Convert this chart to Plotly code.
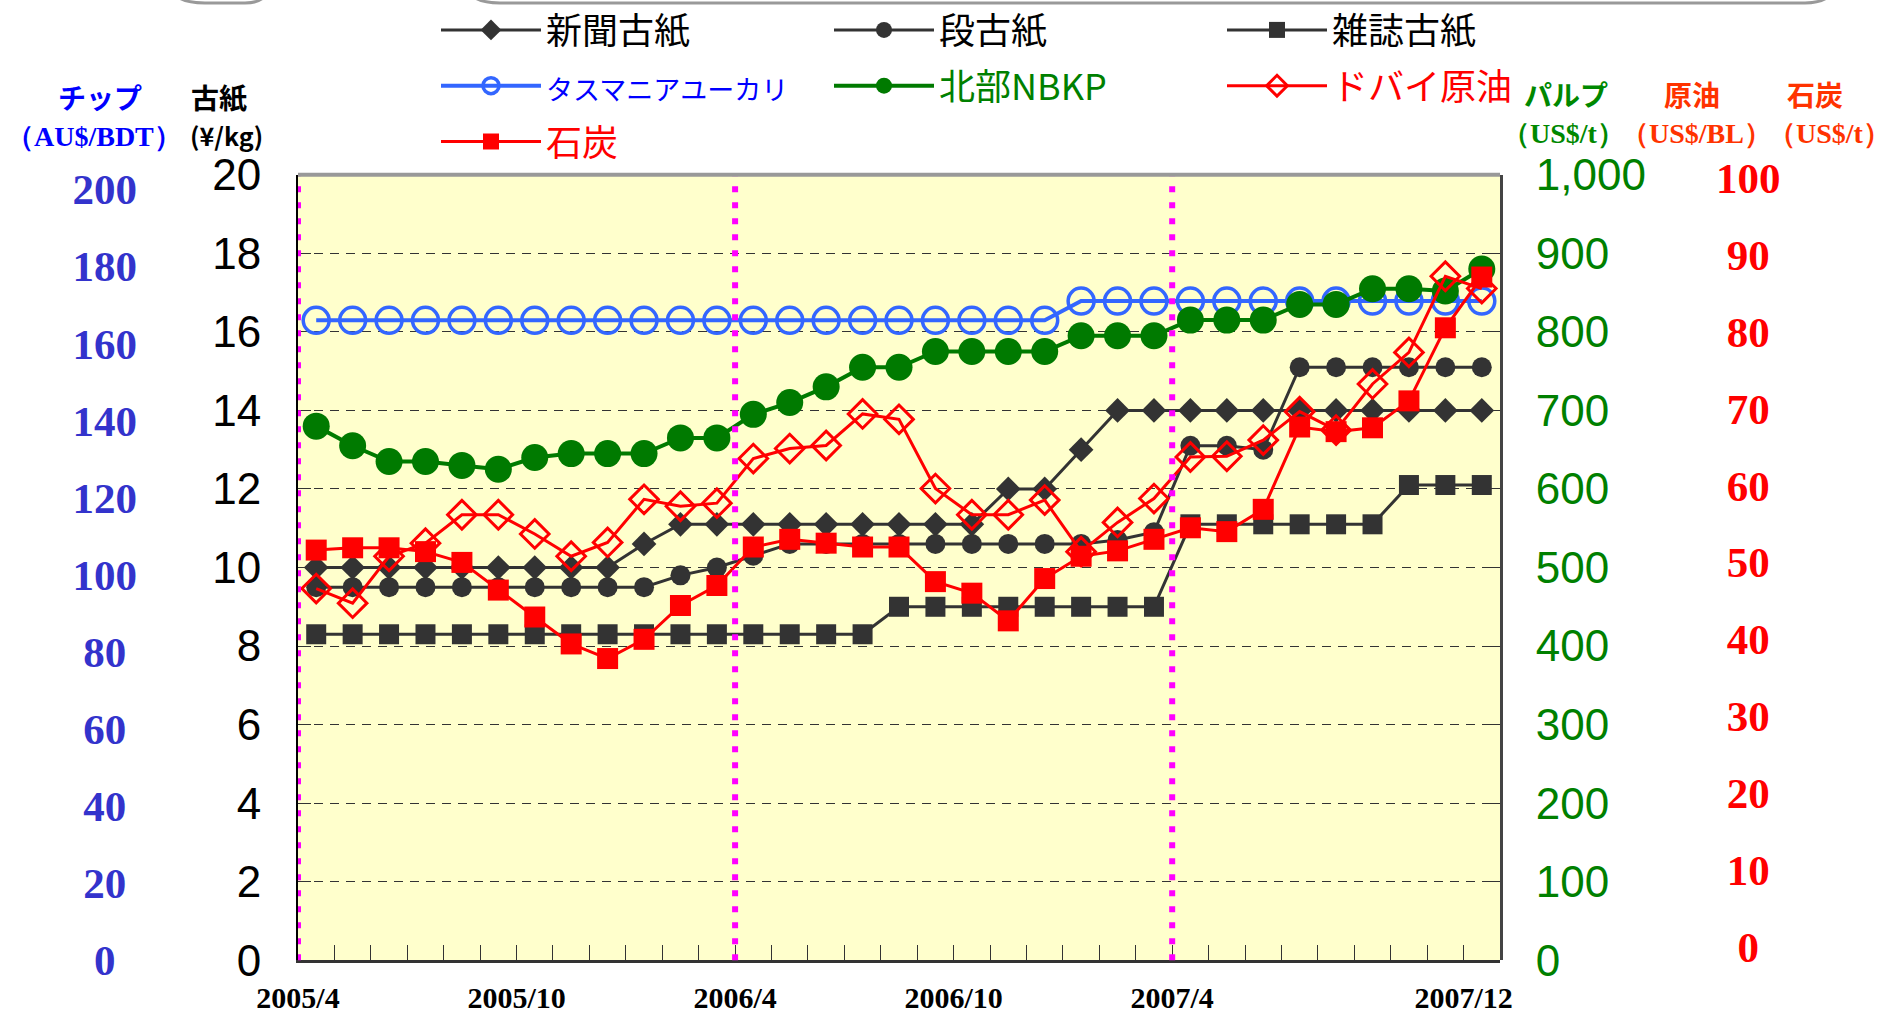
import plotly.graph_objects as go

W, H = 1895, 1019

# ---------------- data ----------------
months = ["2005/4", "2005/5", "2005/6", "2005/7", "2005/8", "2005/9", "2005/10", "2005/11",
          "2005/12", "2006/1", "2006/2", "2006/3", "2006/4", "2006/5", "2006/6", "2006/7",
          "2006/8", "2006/9", "2006/10", "2006/11", "2006/12", "2007/1", "2007/2", "2007/3",
          "2007/4", "2007/5", "2007/6", "2007/7", "2007/8", "2007/9", "2007/10", "2007/11",
          "2007/12"]

tick_labels = ["2005/4", "2005/10", "2006/4", "2006/10", "2007/4", "2007/12"]
fiscal_starts = ["2005/4", "2006/4", "2007/4"]

# 古紙 (¥/kg)
shinbun = [10.0, 10.0, 10.0, 10.0, 10.0, 10.0, 10.0, 10.0, 10.0, 10.6, 11.1, 11.1, 11.1,
           11.1, 11.1, 11.1, 11.1, 11.1, 11.1, 12.0, 12.0, 13.0, 14.0, 14.0, 14.0, 14.0,
           14.0, 14.0, 14.0, 14.0, 14.0, 14.0, 14.0]
dan = [9.5, 9.5, 9.5, 9.5, 9.5, 9.5, 9.5, 9.5, 9.5, 9.5, 9.8, 10.0, 10.3, 10.6, 10.6,
       10.6, 10.6, 10.6, 10.6, 10.6, 10.6, 10.6, 10.7, 10.9, 13.1, 13.1, 13.0, 15.1, 15.1,
       15.1, 15.1, 15.1, 15.1]
zasshi = [8.3, 8.3, 8.3, 8.3, 8.3, 8.3, 8.3, 8.3, 8.3, 8.3, 8.3, 8.3, 8.3, 8.3, 8.3, 8.3,
          9.0, 9.0, 9.0, 9.0, 9.0, 9.0, 9.0, 9.0, 11.1, 11.1, 11.1, 11.1, 11.1, 11.1, 12.1,
          12.1, 12.1]
# チップ (AU$/BDT)
chip = [166, 166, 166, 166, 166, 166, 166, 166, 166, 166, 166, 166, 166, 166, 166, 166,
        166, 166, 166, 166, 166, 171, 171, 171, 171, 171, 171, 171, 171, 171, 171, 171, 171]
# パルプ (US$/t)
nbkp = [680, 655, 635, 635, 630, 625, 640, 645, 645, 645, 665, 665, 695, 710, 730, 755,
        755, 775, 775, 775, 775, 795, 795, 795, 815, 815, 815, 835, 835, 855, 855, 852, 880]
# 原油 (US$/BL)
dubai = [46.6, 44.7, 50.8, 52.5, 56.2, 56.2, 53.7, 50.8, 52.6, 58.2, 57.3, 57.7, 63.5,
         64.8, 65.2, 69.3, 68.6, 59.6, 56.2, 56.2, 58.1, 51.4, 55.2, 58.3, 63.7, 63.8,
         65.9, 69.6, 67.2, 73.2, 77.3, 87.2, 85.6]
# 石炭 (US$/t)
coal = [51.6, 51.9, 51.9, 51.4, 50.0, 46.4, 42.9, 39.4, 37.5, 40.0, 44.4, 47.0, 52.0,
        53.0, 52.5, 52.0, 52.0, 47.5, 46.0, 42.4, 47.9, 50.8, 51.5, 53.0, 54.5, 54.0,
        56.9, 67.6, 67.0, 67.5, 71.0, 80.5, 87.1]

koshi_ticks = [0, 2, 4, 6, 8, 10, 12, 14, 16, 18, 20]
chip_ticks = [0, 20, 40, 60, 80, 100, 120, 140, 160, 180, 200]
pulp_ticks = [0, 100, 200, 300, 400, 500, 600, 700, 800, 900, 1000]
oil_ticks = [0, 10, 20, 30, 40, 50, 60, 70, 80, 90, 100]

# ---------------- helpers ----------------
def px(x):
    return x / W

def py(y):
    return 1 - y / H

idx = list(range(len(months)))
FS = "\u2007"  # figure space
PS = "\u2008"  # punctuation space

def pad_right(v):
    s = str(v)
    if len(s) == 1:
        return s + FS
    if len(s) == 2:
        return s + PS
    return s

def pad_left(v):
    s = str(v)
    if len(s) == 1:
        return FS + s
    if len(s) == 2:
        return PS + s
    return s

BLACK = "#333333"
JP = "Noto Sans CJK JP"
SERIF = "Liberation Serif, Times New Roman, serif"
SANS = "Liberation Sans, Arial, sans-serif"

fig = go.Figure()

fig.add_trace(go.Scatter(x=idx, y=shinbun, name="新聞古紙", mode="lines+markers",
                         legend="legend", legendgroup="a",
                         line=dict(color=BLACK, width=3),
                         marker=dict(symbol="diamond", size=19, color=BLACK), yaxis="y"))
fig.add_trace(go.Scatter(x=idx, y=dan, name="段古紙", mode="lines+markers",
                         legend="legend2", legendgroup="b",
                         line=dict(color=BLACK, width=3),
                         marker=dict(symbol="circle", size=20, color=BLACK), yaxis="y"))
fig.add_trace(go.Scatter(x=idx, y=zasshi, name="雑誌古紙", mode="lines+markers",
                         legend="legend3", legendgroup="c",
                         line=dict(color=BLACK, width=3),
                         marker=dict(symbol="square", size=20, color=BLACK), yaxis="y"))
fig.add_trace(go.Scatter(x=idx, y=chip,
                         name='<span style="color:#0000FF;font-size:27px">タスマニアユーカリ</span>',
                         legend="legend", legendgroup="d",
                         mode="lines+markers", line=dict(color="#3366FF", width=4),
                         marker=dict(symbol="circle-open", size=26, color="#3366FF",
                                     line=dict(width=3.5, color="#3366FF")), yaxis="y2"))
fig.add_trace(go.Scatter(x=idx, y=nbkp, name='<span style="color:#008000">北部NBKP</span>',
                         legend="legend2", legendgroup="e",
                         mode="lines+markers", line=dict(color="#007A00", width=4),
                         marker=dict(symbol="circle", size=27, color="#007A00"), yaxis="y3"))
fig.add_trace(go.Scatter(x=idx, y=dubai, name='<span style="color:#FF0000">ドバイ原油</span>',
                         legend="legend3", legendgroup="f",
                         mode="lines+markers", line=dict(color="#FF0000", width=3),
                         marker=dict(symbol="diamond-open", size=22, color="#FF0000",
                                     line=dict(width=3, color="#FF0000")), yaxis="y4"))
fig.add_trace(go.Scatter(x=idx, y=coal, name='<span style="color:#FF0000">石炭</span>',
                         legend="legend", legendgroup="g",
                         mode="lines+markers", line=dict(color="#FF0000", width=3),
                         marker=dict(symbol="square", size=21, color="#FF0000"), yaxis="y4"))

x0p, x1p = 298, 1500
y_top, y_bot = 174.8, 960.2

def legend_at(xpix):
    return dict(orientation="v", x=px(xpix), xanchor="left", y=py(0), yanchor="top",
                font=dict(family=JP, size=36, color="black"),
                itemwidth=100, bgcolor="rgba(0,0,0,0)", borderwidth=0,
                traceorder="grouped", tracegroupgap=6, itemsizing="trace")

fig.update_layout(
    width=W, height=H,
    margin=dict(l=0, r=0, t=0, b=0, autoexpand=False),
    paper_bgcolor="white",
    plot_bgcolor="rgba(0,0,0,0)",
    font=dict(family=JP, color="black"),
    showlegend=True,
    legend=legend_at(436),
    legend2=legend_at(829),
    legend3=legend_at(1222),
    xaxis=dict(domain=[px(x0p), px(x1p)], range=[-0.5, len(months) - 0.5],
               tickvals=[months.index(t) - 0.5 for t in tick_labels], ticktext=tick_labels,
               ticks="inside", ticklen=15, tickcolor=BLACK, tickwidth=1.2,
               minor=dict(tick0=-0.5, dtick=1, ticks="inside", ticklen=15,
                          tickcolor=BLACK, tickwidth=1.2),
               showline=True, linecolor=BLACK, linewidth=3,
               showgrid=False, zeroline=False,
               tickfont=dict(family=SERIF, size=30, color="black", weight="bold"),
               ticklabelstandoff=9),
    yaxis=dict(domain=[py(y_bot), py(y_top)], range=[0, 20], tickvals=koshi_ticks,
               ticks="inside", ticklen=13, tickcolor=BLACK, tickwidth=1.2,
               showline=True, linecolor="black", linewidth=2,
               showgrid=True, gridcolor="#333333", gridwidth=1.2, griddash="9px,7px",
               zeroline=False,
               tickfont=dict(family=SANS, size=44, color="black"),
               ticklabelstandoff=26),
    yaxis2=dict(domain=[py(960.2), py(189.3)], anchor="free", position=px(137), side="left",
                range=[0, 200], tickvals=chip_ticks,
                ticktext=[pad_right(v) for v in chip_ticks],
                showgrid=False, zeroline=False, showline=False, ticks="",
                tickfont=dict(family=SERIF, size=43, color="#3333CC", weight="bold")),
    yaxis3=dict(domain=[py(y_bot), py(y_top)], anchor="x", side="right",
                range=[0, 1000], tickvals=pulp_ticks, tickformat=",",
                ticks="inside", ticklen=13, tickcolor=BLACK, tickwidth=1.2,
                showline=True, linecolor="#444444", linewidth=3,
                showgrid=False, zeroline=False,
                tickfont=dict(family=SANS, size=44, color="#008000"),
                ticklabelstandoff=24),
    yaxis4=dict(domain=[py(947), py(177.8)], anchor="free", position=px(1715), side="right",
                range=[0, 100], tickvals=oil_ticks,
                ticktext=[pad_left(v) for v in oil_ticks],
                showgrid=False, zeroline=False, showline=False, ticks="",
                tickfont=dict(family=SERIF, size=43, color="#FF0000", weight="bold")),
)

# plot-area background (light yellow), below everything
fig.add_shape(type="rect", xref="paper", yref="paper",
              x0=px(x0p), x1=px(x1p), y0=py(y_bot), y1=py(y_top),
              fillcolor="#FFFFCC", line=dict(width=0), layer="below")

# fiscal-year separators (magenta dotted)
for m in fiscal_starts:
    xv = months.index(m) - 0.5
    fig.add_shape(type="line", xref="x", yref="y domain", x0=xv, x1=xv, y0=0, y1=1,
                  line=dict(color="#FF00FF", width=6, dash="6px,10px"), layer="above")

# top border of plot area
fig.add_shape(type="line", xref="x domain", yref="y domain", x0=0, x1=1, y0=1, y1=1,
              line=dict(color="#999999", width=4), layer="above")

# remnants of rounded frames at the very top edge
def path_px(pts):
    parts = []
    for cmd, coords in pts:
        xy = " ".join(f"{px(a):.5f},{py(b):.5f}" for a, b in coords)
        parts.append(f"{cmd} {xy}")
    return " ".join(parts)

fig.add_shape(type="path", xref="paper", yref="paper",
              path=path_px([("M", [(178, -3)]), ("Q", [(186, 3), (205, 3)]),
                            ("L", [(245, 3)]), ("Q", [(258, 3), (264, -3)])]),
              line=dict(color="#999999", width=3))
fig.add_shape(type="path", xref="paper", yref="paper",
              path=path_px([("M", [(474, -3)]), ("Q", [(482, 3), (500, 3)]),
                            ("L", [(1805, 3)]), ("Q", [(1820, 3), (1828, -3)])]),
              line=dict(color="#999999", width=3))

# axis titles
titles = [
    ("<b>チップ</b>", 100, 97, "#0000FF", JP, 28),
    ("<b>（AU$/BDT）</b>", 94, 137, "#0000FF", SERIF, 28),
    ("<b>古紙</b>", 219, 97, "black", JP, 28),
    ("<b>(¥/kg)</b>", 226, 135, "black", JP, 25),
    ("<b>パルプ</b>", 1566, 94, "#008800", JP, 28),
    ("<b>（US$/t）</b>", 1563, 133, "#008800", SERIF, 28),
    ("<b>原油</b>", 1692, 94, "#FF3300", JP, 28),
    ("<b>（US$/BL）</b>", 1696, 133, "#FF3300", SERIF, 28),
    ("<b>石炭</b>", 1815, 94, "#FF3300", JP, 28),
    ("<b>（US$/t）</b>", 1829, 133, "#FF3300", SERIF, 28),
]
for txt, xx, yy, col, fam, sz in titles:
    fig.add_annotation(text=txt, xref="paper", yref="paper", x=px(xx), y=py(yy),
                       xanchor="center", yanchor="middle", showarrow=False,
                       font=dict(family=fam, size=sz, color=col))

fig.write_html("out.html", config={"displayModeBar": False},
               post_script="document.body.style.margin='0';document.body.style.overflow='hidden';")
